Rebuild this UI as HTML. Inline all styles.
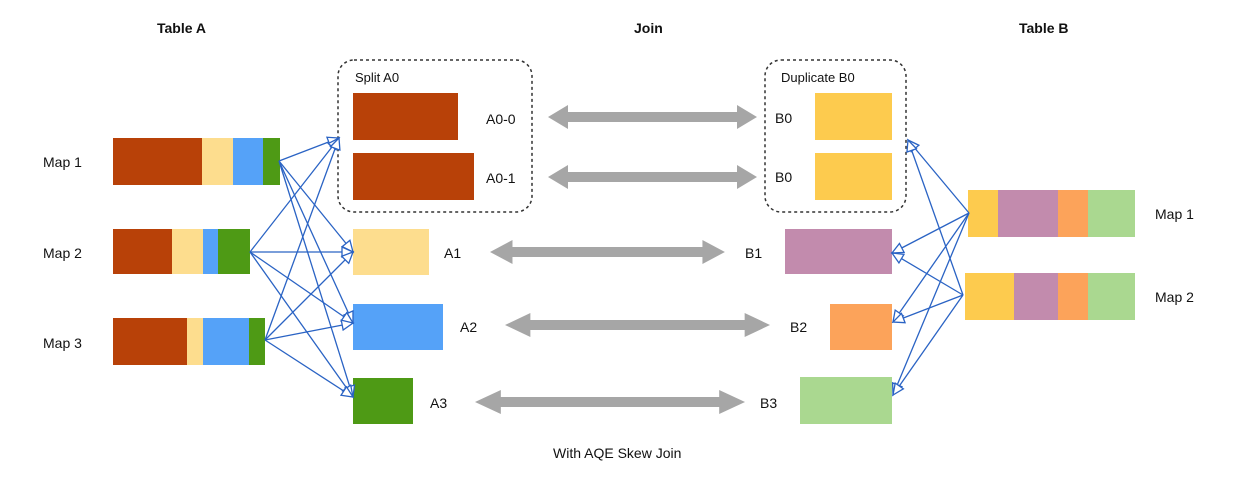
<!DOCTYPE html>
<html><head><meta charset="utf-8"><style>
html,body{margin:0;padding:0;background:#fff;}
svg{display:block;}
text{font-family:"Liberation Sans",sans-serif;fill:#111;}
</style></head><body>
<svg width="1248" height="480" viewBox="0 0 1248 480" xmlns="http://www.w3.org/2000/svg">
<defs>
<marker id="ah" markerWidth="14" markerHeight="12" refX="12" refY="6" orient="auto" markerUnits="userSpaceOnUse">
<path d="M1,1 L12,6 L1,11 Z" fill="#fff" stroke="#2a63c4" stroke-width="1.3"/>
</marker>
<g id="garrow"><path d="M0,0 L20,-12 L20,-5 L189,-5 L189,-12 L209,0 L189,12 L189,5 L20,5 L20,12 Z" fill="#a6a6a6"/></g>
</defs>
<g font-weight="bold" font-size="14">
<text x="157" y="33">Table A</text>
<text x="634" y="33">Join</text>
<text x="1019" y="33">Table B</text>
</g>
<g font-size="14">
<text x="43" y="167">Map 1</text>
<text x="43" y="258">Map 2</text>
<text x="43" y="348">Map 3</text>
<text x="1155" y="219">Map 1</text>
<text x="1155" y="302">Map 2</text>
<text x="553" y="458">With AQE Skew Join</text>
</g>
<!-- left bars -->
<rect x="113" y="138" width="89" height="47" fill="#b84108"/><rect x="202" y="138" width="31" height="47" fill="#fddd8e"/><rect x="233" y="138" width="30" height="47" fill="#55a2f8"/><rect x="263" y="138" width="17" height="47" fill="#4e9a15"/>
<rect x="113" y="229" width="59" height="45" fill="#b84108"/><rect x="172" y="229" width="31" height="45" fill="#fddd8e"/><rect x="203" y="229" width="15" height="45" fill="#55a2f8"/><rect x="218" y="229" width="32" height="45" fill="#4e9a15"/>
<rect x="113" y="318" width="74" height="47" fill="#b84108"/><rect x="187" y="318" width="16" height="47" fill="#fddd8e"/><rect x="203" y="318" width="46" height="47" fill="#55a2f8"/><rect x="249" y="318" width="16" height="47" fill="#4e9a15"/>
<!-- split box -->
<rect x="338" y="60" width="194" height="152" rx="16" fill="none" stroke="#333" stroke-width="1.5" stroke-dasharray="3,3"/>
<text x="355" y="82" font-size="13">Split A0</text>
<rect x="353" y="93" width="105" height="47" fill="#b84108"/>
<rect x="353" y="153" width="121" height="47" fill="#b84108"/>
<g font-size="14"><text x="486" y="124">A0-0</text><text x="486" y="183">A0-1</text>
<text x="444" y="258">A1</text><text x="460" y="332">A2</text><text x="430" y="408">A3</text>
<text x="775" y="123">B0</text><text x="775" y="182">B0</text>
<text x="745" y="258">B1</text><text x="790" y="332">B2</text><text x="760" y="408">B3</text></g>
<rect x="353" y="229" width="76" height="46" fill="#fddd8e"/>
<rect x="353" y="304" width="90" height="46" fill="#55a2f8"/>
<rect x="353" y="378" width="60" height="46" fill="#4e9a15"/>
<!-- dup box -->
<rect x="765" y="60" width="141" height="152" rx="16" fill="none" stroke="#333" stroke-width="1.5" stroke-dasharray="3,3"/>
<text x="781" y="82" font-size="13">Duplicate B0</text>
<rect x="815" y="93" width="77" height="47" fill="#fdcb4e"/>
<rect x="815" y="153" width="77" height="47" fill="#fdcb4e"/>
<rect x="785" y="229" width="107" height="45" fill="#c28bad"/>
<rect x="830" y="304" width="62" height="46" fill="#fca35a"/>
<rect x="800" y="377" width="92" height="47" fill="#aad890"/>
<!-- right bars -->
<rect x="968" y="190" width="30" height="47" fill="#fdcb4e"/><rect x="998" y="190" width="60" height="47" fill="#c28bad"/><rect x="1058" y="190" width="30" height="47" fill="#fca35a"/><rect x="1088" y="190" width="47" height="47" fill="#aad890"/>
<rect x="965" y="273" width="49" height="47" fill="#fdcb4e"/><rect x="1014" y="273" width="44" height="47" fill="#c28bad"/><rect x="1058" y="273" width="30" height="47" fill="#fca35a"/><rect x="1088" y="273" width="47" height="47" fill="#aad890"/>
<!-- gray arrows -->
<use href="#garrow" transform="translate(548,117)"/>
<use href="#garrow" transform="translate(548,177)"/>
<use href="#garrow" transform="translate(490,252) scale(1.124,1)"/>
<use href="#garrow" transform="translate(505,325) scale(1.268,1)"/>
<use href="#garrow" transform="translate(475,402) scale(1.292,1)"/>
<!-- blue lines -->
<g stroke="#2a63c4" stroke-width="1.3" fill="none" marker-end="url(#ah)">
<line x1="279" y1="161" x2="339" y2="138"/><line x1="279" y1="161" x2="353" y2="252"/><line x1="279" y1="161" x2="353" y2="323"/><line x1="279" y1="161" x2="353" y2="397"/>
<line x1="250" y1="252" x2="339" y2="138"/><line x1="250" y1="252" x2="353" y2="252"/><line x1="250" y1="252" x2="353" y2="323"/><line x1="250" y1="252" x2="353" y2="397"/>
<line x1="265" y1="340" x2="339" y2="138"/><line x1="265" y1="340" x2="353" y2="252"/><line x1="265" y1="340" x2="353" y2="323"/><line x1="265" y1="340" x2="353" y2="397"/>
<line x1="969" y1="213" x2="908" y2="140"/><line x1="969" y1="213" x2="892" y2="253"/><line x1="969" y1="213" x2="893" y2="322"/><line x1="969" y1="213" x2="893" y2="395"/>
<line x1="963" y1="295" x2="908" y2="140"/><line x1="963" y1="295" x2="892" y2="253"/><line x1="963" y1="295" x2="893" y2="322"/><line x1="963" y1="295" x2="893" y2="395"/>
</g>
</svg>
</body></html>
